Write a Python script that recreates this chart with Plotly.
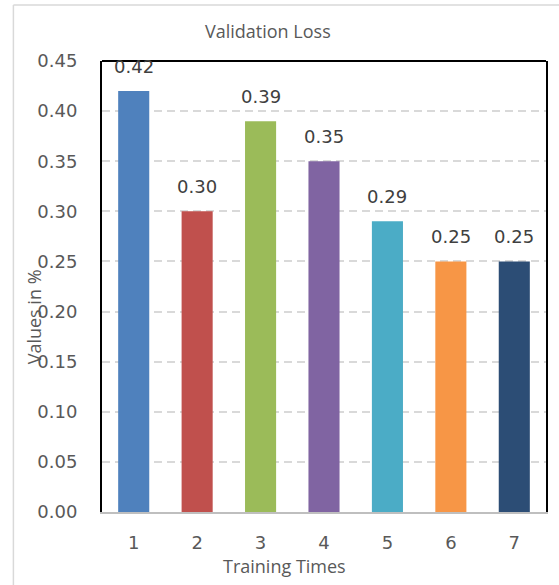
import plotly.graph_objects as go

# Chart data
runs = [1, 2, 3, 4, 5, 6, 7]
val_loss = [0.42, 0.30, 0.39, 0.35, 0.29, 0.25, 0.25]
bar_colors = ["#4F81BD", "#C0504D", "#9BBB59", "#8064A2", "#4BACC6", "#F79646", "#2C4D75"]
y_ticks = [0.00, 0.05, 0.10, 0.15, 0.20, 0.25, 0.30, 0.35, 0.40, 0.45]

W, H = 559, 585
ML, MR, MT, MB = 102, 11, 61, 73
PW, PH = W - ML - MR, H - MT - MB

num_font = "DejaVu Sans"
txt_font = "Open Sans"

fig = go.Figure()
fig.add_trace(go.Bar(
    x=runs,
    y=val_loss,
    width=0.49,
    marker=dict(color=bar_colors, line=dict(width=0)),
    showlegend=False,
    hoverinfo="x+y",
))

# value labels above each bar
for x, v in zip(runs, val_loss):
    fig.add_annotation(
        x=x, y=v, xref="x", yref="y",
        text=f"{v:.2f}", showarrow=False,
        yanchor="middle", yshift=25,
        font=dict(family=num_font, size=18, color="#404040"),
    )

def px_x(p):
    return (p - ML) / PW

def px_y(p):
    return (H - MB - p) / PH

# outer chart frame (light grey): left and top edges
frame = dict(color="#d9d9d9", width=1.5)
fig.add_shape(type="line", xref="paper", yref="paper",
              x0=px_x(13), x1=px_x(13), y0=px_y(H + 5), y1=px_y(5),
              line=frame, layer="below")
fig.add_shape(type="line", xref="paper", yref="paper",
              x0=px_x(13), x1=px_x(W + 5), y0=px_y(5), y1=px_y(5),
              line=frame, layer="below")
# top edge of plot box
fig.add_shape(type="line", xref="paper", yref="paper",
              x0=0, x1=1, y0=1, y1=1,
              line=dict(color="black", width=2))

# chart title and axis titles
fig.add_annotation(text="Validation Loss", xref="paper", yref="paper",
                   x=px_x(269), y=px_y(31), showarrow=False,
                   xanchor="center", yanchor="middle",
                   font=dict(family=txt_font, size=18, color="#595959"))
fig.add_annotation(text="Training Times", xref="paper", yref="paper",
                   x=px_x(285), y=px_y(566), showarrow=False,
                   xanchor="center", yanchor="middle",
                   font=dict(family=txt_font, size=18, color="#595959"))
fig.add_annotation(text="Values in %", xref="paper", yref="paper",
                   x=px_x(34), y=px_y(317), showarrow=False, textangle=-90,
                   xanchor="center", yanchor="middle",
                   font=dict(family=txt_font, size=18, color="#595959"))

fig.update_layout(
    width=W, height=H,
    margin=dict(l=ML, r=MR, t=MT, b=MB, pad=0),
    paper_bgcolor="white",
    plot_bgcolor="white",
    bargap=0.5,
)
fig.update_xaxes(
    range=[0.5, 7.5],
    tickmode="array", tickvals=runs, ticktext=[str(r) for r in runs],
    showgrid=False, zeroline=False,
    showline=True, linecolor="#bfbfbf", linewidth=2,
    ticks="", ticklabelstandoff=13,
    tickfont=dict(family=num_font, size=18, color="#595959"),
)
fig.update_yaxes(
    range=[0, 0.45],
    tickmode="array", tickvals=y_ticks, ticktext=[f"{t:.2f}" for t in y_ticks],
    showgrid=True, gridcolor="#d9d9d9", gridwidth=1.5, griddash="8px,5px",
    zeroline=False,
    showline=True, linecolor="black", linewidth=2, mirror=True,
    ticks="", ticklabelstandoff=19,
    tickfont=dict(family=num_font, size=18, color="#595959"),
)

fig.write_html("out.html")
